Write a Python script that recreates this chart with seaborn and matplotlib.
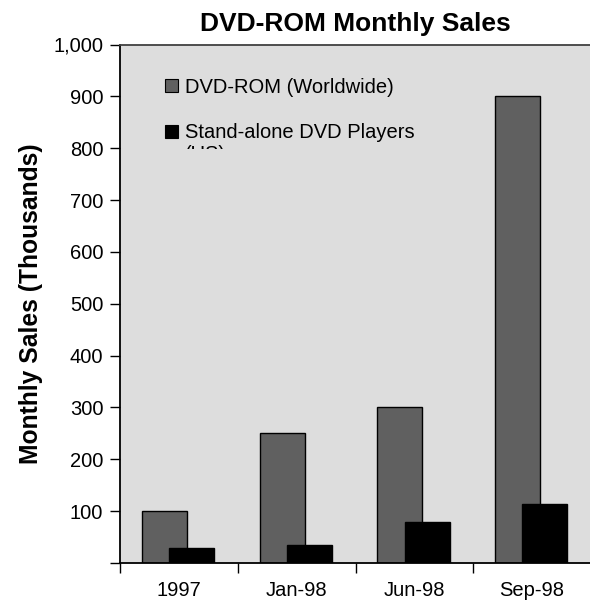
import matplotlib
matplotlib.use("Agg")
import matplotlib.pyplot as plt
import seaborn as sns
import pandas as pd
from matplotlib.patches import Patch
from matplotlib.ticker import FixedLocator, FuncFormatter
from matplotlib.transforms import Bbox

# Monthly sales (thousands of units)
periods = ["1997", "Jan-98", "Jun-98", "Sep-98"]
dvd_rom = [100, 250, 300, 900]
dvd_players = [28, 34, 80, 114]
series_names = ["DVD-ROM (Worldwide)", "Stand-alone DVD Players"]
series_colors = ["#606060", "#000000"]
y_ticks = [0, 100, 200, 300, 400, 500, 600, 700, 800, 900, 1000]

df = pd.DataFrame({
    "period": periods * 2,
    "sales": dvd_rom + dvd_players,
    "series": [series_names[0]] * len(periods) + [series_names[1]] * len(periods),
})

sns.set_style("white")
plt.rcParams["font.family"] = ["Liberation Sans", "DejaVu Sans"]
plt.rcParams["text.color"] = "black"
plt.rcParams["axes.labelcolor"] = "black"
plt.rcParams["xtick.color"] = "black"
plt.rcParams["ytick.color"] = "black"

W, H = 590, 601
fig = plt.figure(figsize=(W / 100, H / 100), dpi=100)
ax = fig.add_axes([120 / W, 1 - 563 / H, 471 / W, (563 - 44.5) / H])
ax.set_facecolor("#dddddd")

sns.barplot(data=df, x="period", y="sales", hue="series", order=periods,
            hue_order=series_names, palette=series_colors, edgecolor="black",
            linewidth=1.0, saturation=1, ax=ax, legend=False)

# Overlapping clustered bars: grey slightly left, black slightly right and in front
bar_w = 0.383
offsets = {0: -0.123, 1: 0.108}
for p in ax.patches:
    c = p.get_x() + p.get_width() / 2
    cat = round(c)
    s = 0 if c < cat else 1
    p.set_width(bar_w)
    p.set_x(cat + offsets[s] - bar_w / 2)
    p.set_zorder(2 + s)

ax.set_xlim(-0.5, len(periods) - 0.5)
ax.set_ylim(0, 1000)

# y axis
ax.yaxis.set_major_locator(FixedLocator(y_ticks))
ax.yaxis.set_major_formatter(FuncFormatter(lambda v, _: "" if v == 0 else f"{int(v):,}"))
ax.tick_params(axis="y", which="major", direction="out", length=7, width=1,
               color="black", labelsize=14.5, pad=5, left=True)

# x axis: ticks on category boundaries, labels centred
ax.set_xticks([i - 0.5 for i in range(len(periods) + 1)])
ax.set_xticklabels([""] * (len(periods) + 1))
ax.set_xticks(range(len(periods)), minor=True)
ax.set_xticklabels(periods, minor=True)
ax.tick_params(axis="x", which="major", direction="out", length=7, width=1,
               color="black", bottom=True)
ax.tick_params(axis="x", which="minor", length=0, labelsize=14.5, pad=13)

for side in ["left", "bottom"]:
    ax.spines[side].set_color("black")
    ax.spines[side].set_linewidth(1.3)
ax.spines["top"].set_color("#404040")
ax.spines["top"].set_linewidth(1.3)
ax.spines["right"].set_visible(False)

ax.set_xlabel("")
ax.set_ylabel("Monthly Sales (Thousands)", fontsize=17.7, fontweight="bold", labelpad=7.5)
ax.set_title("DVD-ROM Monthly Sales", fontsize=19, fontweight="bold", pad=10)

handles = [Patch(facecolor=c, edgecolor="black", linewidth=0.8) for c in series_colors]
leg = ax.legend(handles, series_names, loc="upper left", bbox_to_anchor=(0.079, 0.951),
                frameon=False, fontsize=14.5, handlelength=0.62, handleheight=0.62,
                handletextpad=0.36, labelspacing=1.3, borderaxespad=0)

# second line of the player label, cut off by the legend box edge
us = fig.text(185 / W, 1 - 145 / H, "(US)", fontsize=14.5, ha="left", va="top")
us.set_clip_on(True)
us.set_clip_box(Bbox.from_extents(0, H - 149, W, H))

fig.savefig("out.png", dpi=100)
